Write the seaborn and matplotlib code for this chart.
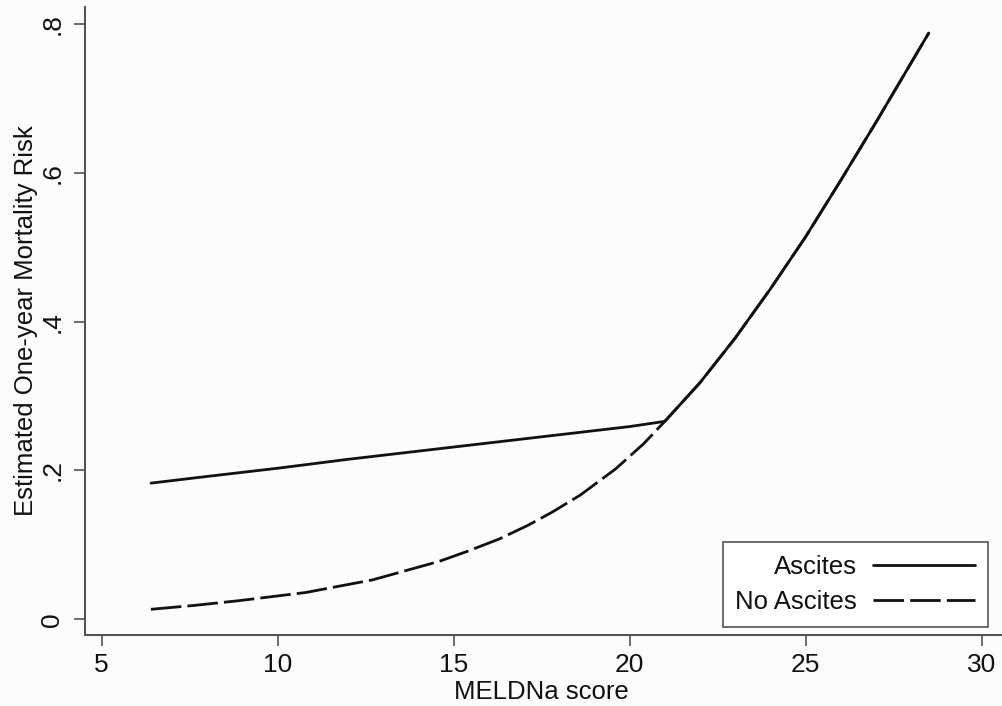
import pandas as pd
import seaborn as sns
import matplotlib.pyplot as plt

# values
meld_ascites = [6.4, 8.0, 10.0, 12.0, 14.0, 16.0, 18.0, 20.0, 21.0,
                21.5, 22.0, 23.0, 24.0, 25.0, 26.0, 27.0, 28.0, 28.5]
risk_ascites = [0.183, 0.192, 0.203, 0.215, 0.226, 0.237, 0.248, 0.259, 0.266,
                0.292, 0.318, 0.378, 0.444, 0.514, 0.590, 0.668, 0.748, 0.788]

meld_no_ascites = [6.4, 7.6, 8.9, 10.8, 12.7, 14.6, 15.4, 16.3, 17.1, 17.8, 18.6, 19.6, 20.4, 21.0,
                   21.5, 22.0, 23.0, 24.0, 25.0, 26.0, 27.0, 28.0, 28.5]
risk_no_ascites = [0.0134, 0.0185, 0.025, 0.036, 0.053, 0.078, 0.0915, 0.108, 0.126, 0.144, 0.167, 0.202, 0.236, 0.266,
                   0.292, 0.318, 0.378, 0.444, 0.514, 0.590, 0.668, 0.748, 0.788]

groups = ['Ascites', 'No Ascites']
x_ticks = [5, 10, 15, 20, 25, 30]
y_ticks = [0, 0.2, 0.4, 0.6, 0.8]
y_tick_labels = ['0', '.2', '.4', '.6', '.8']


def plotRisk():
    df = pd.concat([
        pd.DataFrame({'meld': meld_ascites, 'risk': risk_ascites, 'group': groups[0]}),
        pd.DataFrame({'meld': meld_no_ascites, 'risk': risk_no_ascites, 'group': groups[1]}),
    ], ignore_index=True)

    sns.set_theme(style='ticks')
    plt.rcParams['font.family'] = ['Liberation Sans', 'DejaVu Sans']
    bg = '#fcfcfc'
    grey = '#555555'

    fig = plt.figure(figsize=(10.02, 7.06), dpi=100, facecolor=bg)
    ax = fig.add_axes([0.0848, 0.1006, 0.9152, 0.8899])
    ax.set_facecolor(bg)

    sns.lineplot(data=df, x='meld', y='risk', style='group', hue='group',
                 palette={'Ascites': '#111111', 'No Ascites': '#111111'},
                 dashes={'Ascites': '', 'No Ascites': (11, 2.2)},
                 linewidth=2, ax=ax, legend=False, sort=True)

    ax.set_xlim(4.526, 30.58)
    ax.set_ylim(-0.0211, 0.8233)
    ax.set_xticks(x_ticks)
    ax.set_xticklabels([str(t) for t in x_ticks])
    ax.set_yticks(y_ticks)
    ax.set_yticklabels(y_tick_labels)

    for side in ['top', 'right']:
        ax.spines[side].set_visible(False)
    for side in ['left', 'bottom']:
        ax.spines[side].set_color(grey)
        ax.spines[side].set_linewidth(1.5)

    ax.tick_params(axis='both', direction='out', length=8, width=1.2, color=grey, labelcolor='#111111')
    ax.tick_params(axis='x', labelsize=19, pad=5)
    ax.tick_params(axis='y', labelsize=19, pad=7)
    for lab in ax.get_yticklabels():
        lab.set_rotation(90)
        lab.set_va('center')
        lab.set_ha('right')

    ax.set_xlabel('MELDNa score', fontsize=18.5, color='#111111')
    ax.set_ylabel('Estimated One-year Mortality Risk', fontsize=18.5, color='#111111')
    ax.xaxis.set_label_coords(0.498, -0.071)
    ax.yaxis.set_label_coords(-0.051, 0.5)

    lines = ax.get_lines()
    leg = ax.legend(lines[:2], groups, loc='lower right', bbox_to_anchor=(0.985, 0.0127),
                    borderaxespad=0, fontsize=18.5, handlelength=4, handletextpad=0.6,
                    labelspacing=0.45, borderpad=0.5, markerfirst=False,
                    fancybox=False, framealpha=1, facecolor='white', edgecolor=grey)
    leg.get_frame().set_linewidth(1.2)
    for t in leg.get_texts():
        t.set_color('#111111')

    fig.savefig('out.png', dpi=100, facecolor=bg)


if __name__ == '__main__':
    plotRisk()
